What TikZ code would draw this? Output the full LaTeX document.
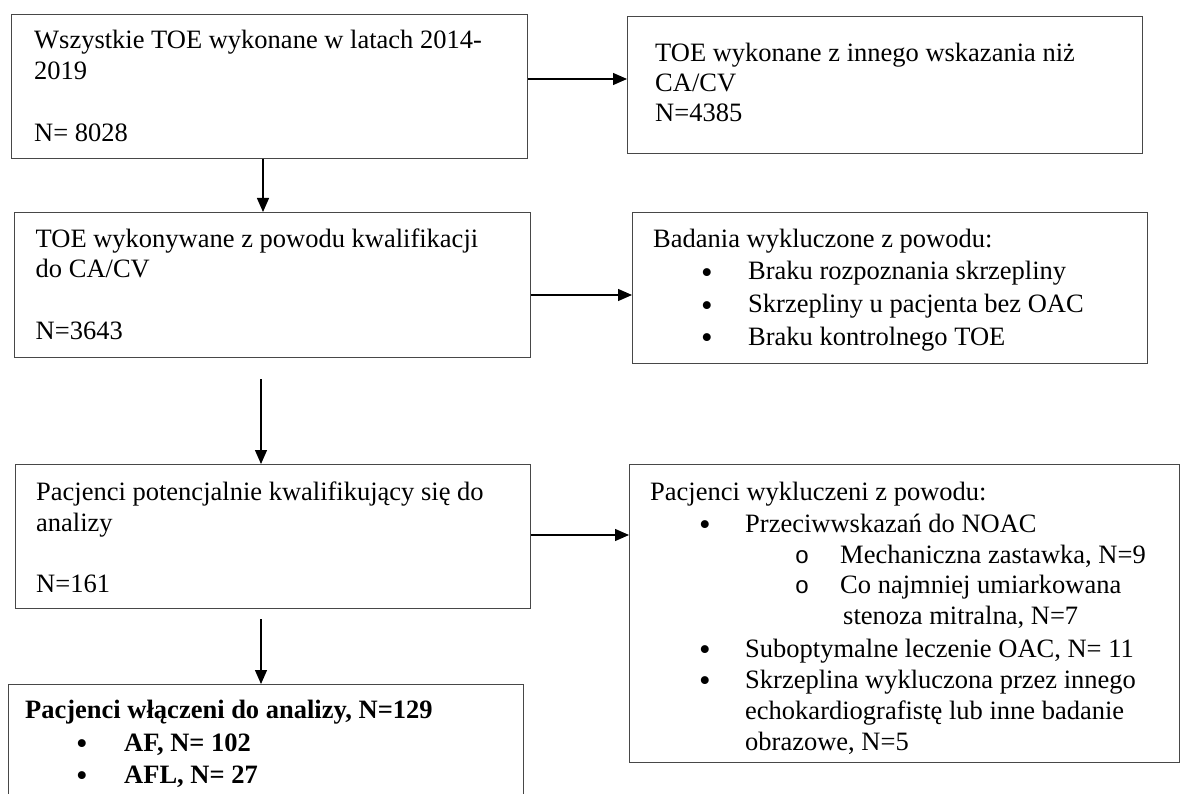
\documentclass[tikz,border=0pt]{standalone}
\usepackage{fontspec}
\setmainfont{Liberation Serif}
\newfontfamily\subfont{Liberation Mono}
\usetikzlibrary{arrows.meta}
\tikzset{
  box/.style={draw=black!72, line width=1.3pt, inner sep=0pt, anchor=north west},
  arr/.style={draw=black, line width=1.3pt, -{Triangle[length=14pt,width=12pt]}},
  txt/.style={anchor=base west, inner sep=0pt, font=\fontsize{26.5}{31}\selectfont},
  btxt/.style={txt, font=\fontsize{26.5}{31}\selectfont\bfseries},
  bul/.style={anchor=base, inner sep=0pt, yshift=-3.5pt, font=\fontsize{33}{33}\selectfont},
  sbul/.style={anchor=base, inner sep=0pt, font=\fontsize{24}{31}\selectfont\subfont},
}
\begin{document}
\begin{tikzpicture}[x=1pt, y=-1pt]
\useasboundingbox (0,0) rectangle (1181,794);
\fill[white] (0,0) rectangle (1181,794);
\clip (0,0) rectangle (1181,794);

% boxes
\node[box, minimum width=516pt, minimum height=144pt] (b1) at (11,14) {};
\node[box, minimum width=515pt, minimum height=137pt] (r1) at (627,16) {};
\node[box, minimum width=516pt, minimum height=145pt] (b2) at (14,212) {};
\node[box, minimum width=515pt, minimum height=151pt] (r2) at (632,212) {};
\node[box, minimum width=515pt, minimum height=144pt] (b3) at (15,464) {};
\node[box, minimum width=550pt, minimum height=298pt] (r3) at (629,464) {};
\node[box, minimum width=515pt, minimum height=160pt] (b4) at (8,684) {};

% connectors
\coordinate (x1) at (263,0);
\coordinate (s2) at (261,379);
\coordinate (s3) at (261,619);
\coordinate (y1) at (0,79);
\coordinate (y2) at (0,295);
\coordinate (y3) at (0,535);
\draw[arr] (b1.south -| x1) -- (b2.north -| x1);
\draw[arr] (s2) -- (b3.north -| s2);
\draw[arr] (s3) -- (b4.north -| s3);
\draw[arr] (b1.east |- y1) -- (r1.west |- y1);
\draw[arr] (b2.east |- y2) -- (r2.west |- y2);
\draw[arr] (b3.east |- y3) -- (r3.west |- y3);

% box 1
\node[txt] (t1a) at (34,49) {Wszystkie TOE wykonane w latach 2014-};
\node[txt] (t1b) at (34,80) {2019};
\node[txt] (t1c) at (34,142) {N= 8028};

% right box 1
\node[txt] (u1a) at (655,62) {TOE wykonane z innego wskazania niż};
\node[txt] (u1b) at (655,92) {CA/CV};
\node[txt] (u1c) at (655,122) {N=4385};

% box 2
\node[txt] (t2a) at (35.5,248) {TOE wykonywane z powodu kwalifikacji};
\node[txt] (t2b) at (35.5,278) {do CA/CV};
\node[txt] (t2c) at (35.5,340) {N=3643};

% right box 2
\node[txt] (u2a) at (653,248) {Badania wykluczone z powodu:};
\node[bul] (u2b1) at (707,280) {•};
\node[txt] (u2b) at (748,280) {Braku rozpoznania skrzepliny};
\node[bul] (u2c1) at (707,313) {•};
\node[txt] (u2c) at (748,313) {Skrzepliny u pacjenta bez OAC};
\node[bul] (u2d1) at (707,345) {•};
\node[txt] (u2d) at (748,345) {Braku kontrolnego TOE};

% box 3
\node[txt] (t3a) at (36,500) {Pacjenci potencjalnie kwalifikujący się do};
\node[txt] (t3b) at (36,531) {analizy};
\node[txt] (t3c) at (36,592) {N=161};

% right box 3
\node[txt] (u3a) at (650,500) {Pacjenci wykluczeni z powodu:};
\node[bul] (u3b1) at (705,532) {•};
\node[txt] (u3b) at (745,532) {Przeciwwskazań do NOAC};
\node[sbul] (u3c1) at (802,563) {o};
\node[txt] (u3c) at (840,563) {Mechaniczna zastawka, N=9};
\node[sbul] (u3d1) at (802,593) {o};
\node[txt] (u3d) at (840,593) {Co najmniej umiarkowana};
\node[txt] (u3e) at (843,624) {stenoza mitralna, N=7};
\node[bul] (u3f1) at (705,657) {•};
\node[txt] (u3f) at (745,657) {Suboptymalne leczenie OAC, N= 11};
\node[bul] (u3g1) at (705,688) {•};
\node[txt] (u3g) at (745,688) {Skrzeplina wykluczona przez innego};
\node[txt] (u3h) at (745,719) {echokardiografistę lub inne badanie};
\node[txt] (u3i) at (745,750) {obrazowe, N=5};

% box 4
\node[btxt] (t4a) at (25,718) {Pacjenci włączeni do analizy, N=129};
\node[bul] (t4b1) at (82,751) {•};
\node[btxt] (t4b) at (124,751) {AF, N= 102};
\node[bul] (t4c1) at (82,783) {•};
\node[btxt] (t4c) at (124,783) {AFL, N= 27};
\end{tikzpicture}
\end{document}
